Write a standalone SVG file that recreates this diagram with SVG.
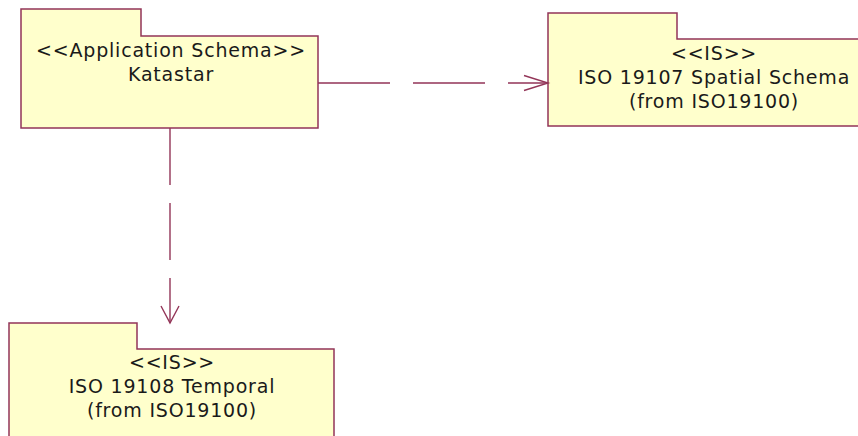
<svg xmlns="http://www.w3.org/2000/svg" width="858" height="436" viewBox="0 0 858 436">
<style>
.pkg{fill:#FFFFCC;stroke:#933558;stroke-width:1.5}
.t{font-family:"DejaVu Sans",Verdana,sans-serif;font-size:19px;letter-spacing:0.8px;fill:#1a1a1a;text-anchor:middle}
.c{fill:none;stroke:#933558;stroke-width:1.4}
</style>
<rect width="858" height="436" fill="#ffffff"/>
<g id="katastar">
<path class="pkg" d="M21,9 H141 V36 H318 V128 H21 Z"/>
<text class="t" x="171" y="57">&lt;&lt;Application Schema&gt;&gt;</text>
<text class="t" x="171" y="81">Katastar</text>
</g>
<g id="iso19107">
<path class="pkg" d="M548,13 H677 V39 H880 V126 H548 Z"/>
<text class="t" x="714" y="60">&lt;&lt;IS&gt;&gt;</text>
<text class="t" x="714" y="84">ISO 19107 Spatial Schema</text>
<text class="t" x="714" y="108">(from ISO19100)</text>
</g>
<g id="iso19108">
<path class="pkg" d="M9,323 H137 V349 H334 V450 H9 Z"/>
<text class="t" x="172" y="369">&lt;&lt;IS&gt;&gt;</text>
<text class="t" x="172" y="393">ISO 19108 Temporal</text>
<text class="t" x="172" y="417">(from ISO19100)</text>
</g>
<g id="connectors">
<path class="c" d="M318,83 H548" stroke-dasharray="72 23"/>
<path class="c" d="M524,75.5 L548,83 L524,90.5"/>
<path class="c" d="M170,128 V323" stroke-dasharray="57 18"/>
<path class="c" d="M161,306 L170,323 L179,306"/>
</g>
</svg>
